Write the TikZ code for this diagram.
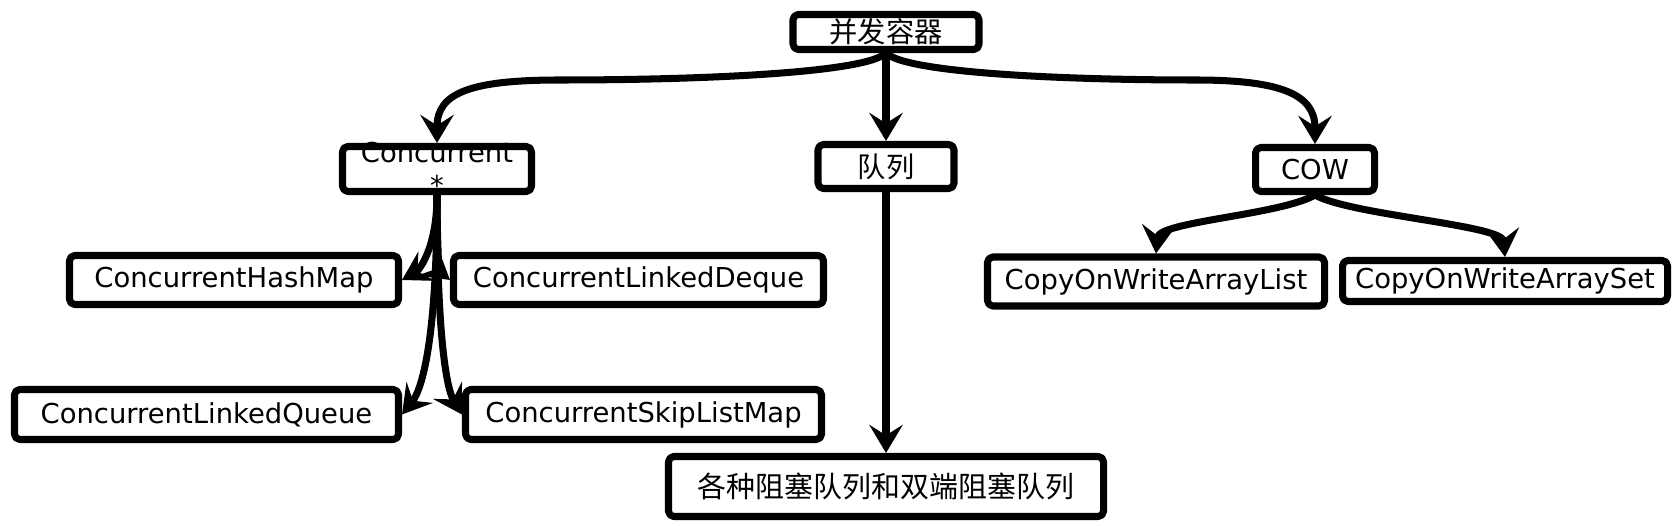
\documentclass[tikz,border=0pt]{standalone}
\usepackage{fontspec}
\setmainfont{DejaVu Sans}
\newfontfamily\cjk[Scale=1.03]{Noto Sans CJK SC}
\usetikzlibrary{arrows.meta}

\tikzset{
  box/.style={draw, line width=2pt, rounded corners=1.5pt, inner sep=0pt,
    minimum height=0.49cm, font=\fontsize{7.8}{9.4}\selectfont},
  conn/.style={line width=2pt, -{Stealth[length=8pt,width=9.5pt,inset=3pt]}},
}

\begin{document}
\begin{tikzpicture}[line join=round]
  \useasboundingbox (0,0) rectangle (16.8,-5.26);
  % top row
  \node[box, minimum width=1.86cm, minimum height=0.35cm] (root) at (8.86,-0.32) {\cjk 并发容器};
  % second row
  \node[box, minimum width=1.89cm, minimum height=0.45cm] (conc) at (4.37,-1.69)
    {\raisebox{-0.1cm}[0pt][0pt]{\begin{tabular}{@{}c@{}}Concurrent\\{}*\end{tabular}}};
  \node[box, minimum width=1.36cm, minimum height=0.44cm] (queue) at (8.86,-1.665) {\cjk 队列};
  \node[box, minimum width=1.19cm, minimum height=0.44cm] (cow) at (13.15,-1.695) {COW};
  % third row
  \node[box, minimum width=3.29cm] (hash) at (2.34,-2.80) {ConcurrentHashMap};
  \node[box, minimum width=3.70cm] (deque) at (6.385,-2.80) {ConcurrentLinkedDeque};
  \node[box, minimum width=3.37cm] (cowlist) at (11.56,-2.815) {CopyOnWriteArrayList};
  \node[box, minimum width=3.25cm, minimum height=0.41cm] (cowset) at (15.05,-2.81) {CopyOnWriteArraySet};
  % bottom rows
  \node[box, minimum width=3.84cm, minimum height=0.50cm] (lqueue) at (2.065,-4.145) {ConcurrentLinkedQueue};
  \node[box, minimum width=3.56cm, minimum height=0.50cm] (skip) at (6.435,-4.145) {ConcurrentSkipListMap};
  \node[box, minimum width=4.35cm, minimum height=0.60cm, font=\fontsize{8}{10}\selectfont] (block) at (8.86,-4.865)
    {\cjk 各种阻塞队列和双端阻塞队列};

  % from the root
  \draw[conn] (root.south) .. controls +(-0.2,-0.2) and +(1.4,0) .. (5.6,-0.80)
    .. controls +(-0.9,0) and +(0,0.5) .. (conc.north);
  \draw[conn] (root.south) -- (queue.north);
  \draw[conn] (root.south) .. controls +(0.2,-0.2) and +(-1.3,0) .. (11.95,-0.80)
    .. controls +(0.85,0) and +(0,0.5) .. (cow.north);

  % Concurrent*
  \draw[conn] (conc.south) .. controls +(0,-0.55) and +(0.16,0.09) .. (hash.east);
  \draw[conn] (conc.south) .. controls +(0,-0.55) and +(-0.1,0.08) .. (deque.west);
  \draw[conn] (conc.south) .. controls +(0,-1.45) and +(0.2,0.25) .. (lqueue.east);
  \draw[conn] (conc.south) .. controls +(0,-1.45) and +(-0.15,0.25) .. (skip.west);

  % queues and COW
  \draw[conn] (queue.south) -- (block.north);
  \draw[conn] (cow.south) .. controls +(-0.35,-0.2) and +(0.03,0.32) .. (cowlist.north);
  \draw[conn] (cow.south) .. controls +(0.35,-0.2) and +(-0.03,0.32) .. (cowset.north);
\end{tikzpicture}
\end{document}
